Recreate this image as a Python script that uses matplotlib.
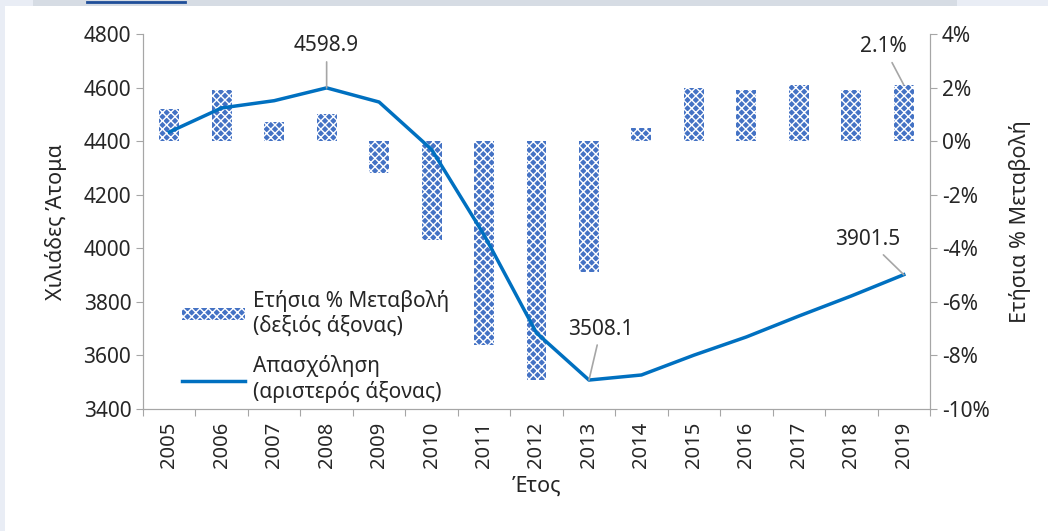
import numpy as np
import matplotlib.pyplot as plt
from matplotlib.patches import Rectangle, Patch
from matplotlib.lines import Line2D

plt.rcParams['font.family'] = ['Noto Sans', 'DejaVu Sans']
plt.rcParams['hatch.linewidth'] = 1.0

# Data
years = ['2005', '2006', '2007', '2008', '2009', '2010', '2011', '2012',
         '2013', '2014', '2015', '2016', '2017', '2018', '2019']
employment = [4434, 4524, 4551, 4598.9, 4546, 4369, 4050, 3684,
              3508.1, 3527, 3601, 3669, 3747, 3822, 3901.5]
pct_change = [1.2, 1.9, 0.7, 1.0, -1.2, -3.7, -7.6, -8.9,
              -4.9, 0.5, 2.0, 1.9, 2.1, 1.9, 2.1]

txt = '#262626'
grey = '#a6a6a6'
line_col = '#0070c0'
bar_col = '#4472c4'

fig = plt.figure(figsize=(10.48, 5.31), dpi=100)
W, H = 1048, 531

# top banner strip and left border
fig.add_artist(Rectangle((0, 0), 5 / W, 1, transform=fig.transFigure,
                         color='#e9edf5', lw=0))
fig.add_artist(Rectangle((0, 1 - 6 / H), 1, 6 / H, transform=fig.transFigure,
                         color='#e9edf5', lw=0))
fig.add_artist(Rectangle((33 / W, 1 - 6 / H), (957 - 33) / W, 6 / H,
                         transform=fig.transFigure, color='#d6dce4', lw=0))
fig.add_artist(Line2D([87 / W, 185 / W], [1 - 2 / H, 1 - 2 / H],
                      transform=fig.transFigure, color='#1f4e99', lw=2))

ax = fig.add_axes([143 / W, 1 - 409 / H, (930 - 143) / W, (409 - 34) / H])
ax2 = ax.twinx()
x = np.arange(len(years))

# bars on right axis
ax2.bar(x, pct_change, width=0.38, color=bar_col, edgecolor='white',
        hatch='xxxx', linewidth=0)
ax2.set_ylim(-10, 4)
ax2.set_yticks(np.arange(-10, 5, 2))
ax2.set_yticklabels([f'{v}%' for v in range(-10, 5, 2)])

# line on left axis, drawn on top
ax.set_zorder(ax2.get_zorder() + 1)
ax.patch.set_visible(False)
ax.plot(x, employment, color=line_col, lw=2.5, solid_joinstyle='round')
ax.set_ylim(3400, 4800)
ax.set_yticks(np.arange(3400, 4801, 200))
ax.set_xlim(-0.5, len(years) - 0.5)
ax.set_xticks(np.arange(len(years) + 1) - 0.5, minor=False)
ax.set_xticklabels([])
ax.set_xticks(x, minor=True)
ax.set_xticklabels(years, minor=True, rotation=90)
ax.tick_params(axis='x', which='minor', length=0, labelsize=14.5, colors=txt, pad=9)
ax.tick_params(axis='x', which='major', length=5, color=grey, direction='out')

for a in (ax, ax2):
    for s in a.spines.values():
        s.set_color(grey)
    a.spines['top'].set_visible(False)
    a.tick_params(axis='y', labelsize=15, colors=txt, color=grey, length=5)

ax.set_ylabel('Χιλιάδες Άτομα', fontsize=15.5, color=txt, labelpad=12)
ax2.set_ylabel('Ετήσια % Μεταβολή', fontsize=15.5, color=txt, labelpad=14)
ax.set_xlabel('Έτος', fontsize=15.5, color=txt, labelpad=6)

# annotations
ap = dict(arrowstyle='-', color=grey, lw=1.2, shrinkA=2, shrinkB=0)
ax.annotate('4598.9', (3, employment[3]), xytext=(0, 42), textcoords='offset pixels',
            ha='center', va='center', fontsize=15, color=txt, arrowprops=ap)
ax.annotate('3508.1', (8, employment[8]), xytext=(12, 51), textcoords='offset pixels',
            ha='center', va='center', fontsize=15, color=txt, arrowprops=ap)
ax.annotate('3901.5', (14, employment[14]), xytext=(-36, 35), textcoords='offset pixels',
            ha='center', va='center', fontsize=15, color=txt, arrowprops=ap)
ax2.annotate('2.1%', (14, pct_change[14]), xytext=(-20, 38), textcoords='offset pixels',
             ha='center', va='center', fontsize=15, color=txt, arrowprops=ap)

handles = [Patch(facecolor=bar_col, edgecolor='white', hatch='xxxx', linewidth=0),
           Line2D([], [], color=line_col, lw=2.5)]
labels = ['Ετήσια % Μεταβολή\n(δεξιός άξονας)', 'Απασχόληση\n(αριστερός άξονας)']
ax.legend(handles, labels, loc='upper left', bbox_to_anchor=(172 / W, 1 - 280 / H),
          bbox_transform=fig.transFigure, frameon=False, fontsize=15,
          labelcolor=txt, handlelength=3.0, handleheight=0.5, handletextpad=0.4,
          labelspacing=0.9, borderpad=0)

fig.savefig('out.png', dpi=100)
